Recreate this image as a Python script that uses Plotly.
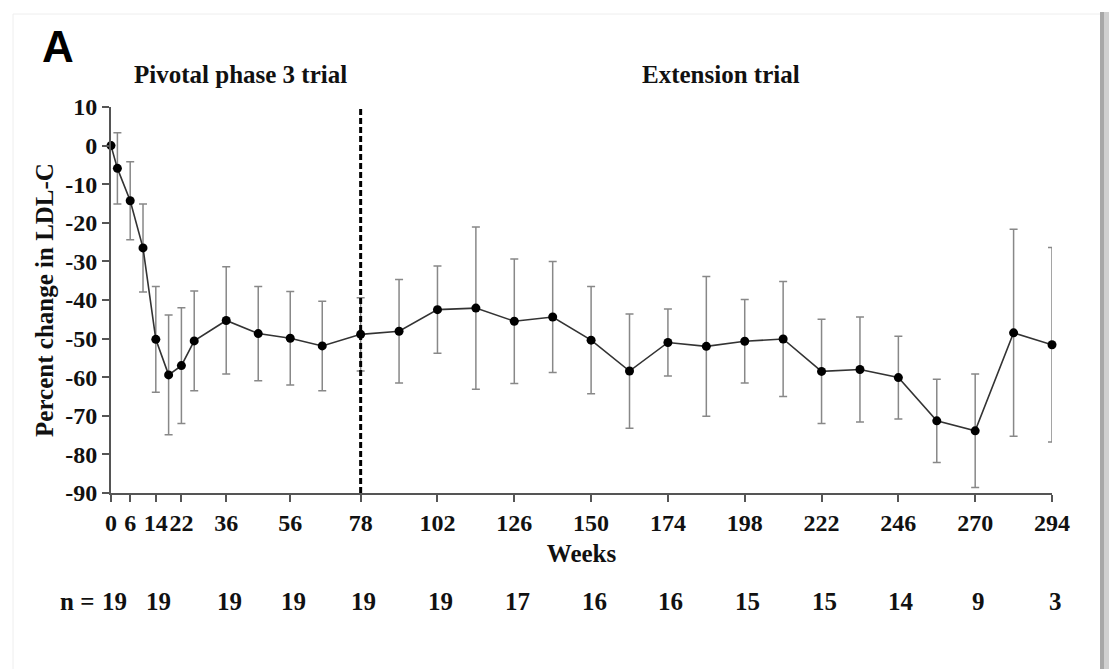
import plotly.graph_objects as go

# ---- data ----
weeks = [0, 2, 6, 10, 14, 18, 22, 26, 36, 46, 56, 66, 78, 90, 102, 114, 126, 138,
         150, 162, 174, 186, 198, 210, 222, 234, 246, 258, 270, 282, 294]
mean_change = [0, -5.9, -14.3, -26.5, -50.2, -59.4, -57.0, -50.6, -45.3, -48.7, -49.9,
               -51.9, -48.9, -48.1, -42.5, -42.1, -45.5, -44.4, -50.4, -58.4, -51.0,
               -52.0, -50.7, -50.1, -58.5, -58.0, -60.1, -71.3, -73.9, -48.5, -51.6]
sd_change = [0, 9.2, 10.1, 11.4, 13.7, 15.5, 15.0, 12.9, 13.9, 12.2, 12.1, 11.6, 9.5,
             13.4, 11.3, 21.0, 16.1, 14.4, 13.9, 14.8, 8.7, 18.1, 10.8, 14.9, 13.5,
             13.6, 10.7, 10.8, 14.7, 26.8, 25.2]

x_tickvals = [0, 6, 14, 22, 36, 56, 78, 102, 126, 150, 174, 198, 222, 246, 270, 294]
y_tickvals = [10, 0, -10, -20, -30, -40, -50, -60, -70, -80, -90]

n_weeks = [0, 14, 36, 56, 78, 102, 126, 150, 174, 198, 222, 246, 270, 294]
n_values = [19, 19, 19, 19, 19, 19, 17, 16, 16, 15, 15, 14, 9, 3]

phase_split_week = 78
phase_labels = ["Pivotal phase 3 trial", "Extension trial"]

SERIF = "Liberation Serif"
AX = "#555555"

fig = go.Figure()
fig.add_trace(go.Scatter(
    x=weeks, y=mean_change,
    mode="lines+markers",
    line=dict(color="#333333", width=1.6),
    marker=dict(color="black", size=9),
    error_y=dict(type="data", array=sd_change, visible=True,
                 color="#888888", thickness=1.5, width=4),
    cliponaxis=False,
    showlegend=False,
))

# dashed separator between phases
fig.add_shape(type="line", xref="x", yref="y",
              x0=phase_split_week, x1=phase_split_week, y0=-90, y1=10,
              line=dict(color="black", width=3, dash="6px,3px"))

ann = []
# panel letter
ann.append(dict(text="<b>A</b>", xref="paper", yref="paper", x=(40 - 111) / 941, y=(493 - 46) / 386,
                xanchor="left", yanchor="middle", showarrow=False,
                font=dict(family="Liberation Sans", size=44, color="black")))
# phase labels
ann.append(dict(text="<b>%s</b>" % phase_labels[0], xref="paper", yref="paper",
                x=(240 - 111) / 941, y=(493 - 75) / 386, xanchor="center", yanchor="middle",
                showarrow=False, font=dict(family=SERIF, size=25, color="#111")))
ann.append(dict(text="<b>%s</b>" % phase_labels[1], xref="paper", yref="paper",
                x=(721 - 111) / 941, y=(493 - 75) / 386, xanchor="center", yanchor="middle",
                showarrow=False, font=dict(family=SERIF, size=25, color="#111")))
# n row
n_y = (493 - 601) / 386
ann.append(dict(text="<b>n =</b>", xref="paper", yref="paper", x=(96 - 111) / 941, y=n_y,
                xanchor="right", yanchor="middle", showarrow=False,
                font=dict(family=SERIF, size=25, color="#111")))
for w, n in zip(n_weeks, n_values):
    ann.append(dict(text="<b>%d</b>" % n, xref="x", yref="paper", x=w, y=n_y,
                    xshift=3, xanchor="center", yanchor="middle", showarrow=False,
                    font=dict(family=SERIF, size=25, color="#111")))

# subtle frame / shadow of the original figure
shapes_extra = [
    dict(type="line", xref="paper", yref="paper",
         x0=(13 - 111) / 941, x1=(13 - 111) / 941, y0=(493 - 14) / 386, y1=(493 - 669) / 386,
         line=dict(color="#eeeeee", width=1)),
    dict(type="line", xref="paper", yref="paper",
         x0=(13 - 111) / 941, x1=(1100 - 111) / 941, y0=(493 - 14) / 386, y1=(493 - 14) / 386,
         line=dict(color="#eeeeee", width=1)),
    dict(type="rect", xref="paper", yref="paper",
         x0=(1100 - 111) / 941, x1=(1104 - 111) / 941, y0=(493 - 12) / 386, y1=(493 - 669) / 386,
         fillcolor="#a8a8a8", line=dict(width=0)),
    dict(type="rect", xref="paper", yref="paper",
         x0=(1104 - 111) / 941, x1=(1109 - 111) / 941, y0=(493 - 12) / 386, y1=(493 - 669) / 386,
         fillcolor="#d0d0d0", line=dict(width=0)),
]
for s in shapes_extra:
    fig.add_shape(**s)

fig.update_layout(
    width=1109, height=669,
    margin=dict(l=111, r=57, t=107, b=176, autoexpand=False),
    paper_bgcolor="white", plot_bgcolor="white",
    annotations=ann,
    xaxis=dict(
        range=[0, 294], tickmode="array", tickvals=x_tickvals,
        ticktext=[str(v) for v in x_tickvals], tickangle=0, automargin=False,
        showgrid=False, zeroline=False, showline=True, linecolor=AX, linewidth=2,
        ticks="outside", ticklen=7, tickwidth=2, tickcolor=AX,
        tickfont=dict(family=SERIF, size=24, color="#111", weight="bold"),
        title=dict(text="<b>Weeks</b>", font=dict(family=SERIF, size=25, color="#111"),
                   standoff=10),
    ),
    yaxis=dict(
        range=[-90, 10], tickmode="array", tickvals=y_tickvals,
        ticktext=[str(v) for v in y_tickvals], automargin=False,
        showgrid=False, zeroline=False, showline=True, linecolor=AX, linewidth=2,
        ticks="outside", ticklen=7, tickwidth=2, tickcolor=AX,
        tickfont=dict(family=SERIF, size=24, color="#111", weight="bold"),
        title=dict(text="<b>Percent change in LDL-C</b>",
                   font=dict(family=SERIF, size=25, color="#111"), standoff=4),
    ),
)

fig.write_html("out.html", config={"displayModeBar": False},
               post_script="document.body.style.margin='0';document.body.style.overflow='hidden';")
